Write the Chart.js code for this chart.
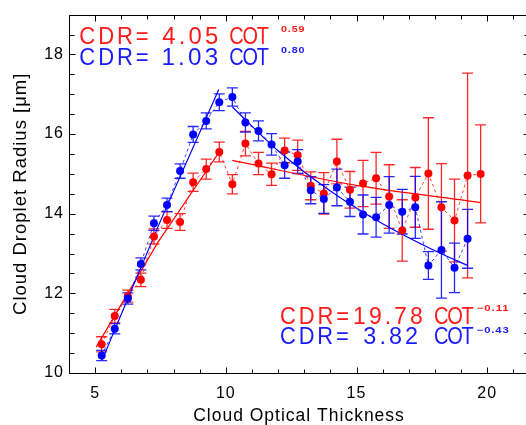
<!DOCTYPE html>
<html><head><meta charset="utf-8">
<script src="https://cdn.jsdelivr.net/npm/chart.js@4.4.1/dist/chart.umd.min.js"></script>
<style>
html,body{margin:0;padding:0;background:#fff;overflow:hidden;}
#wrap{width:526px;height:425px;overflow:hidden;position:relative;}
canvas{display:block;}
</style></head><body>
<div id="wrap"><canvas id="c" width="540" height="425"></canvas></div>
<script>
// ---- data ----
const redCOT  = [5.25,5.75,6.25,6.75,7.25,7.75,8.25,8.75,9.25,9.75,10.25,10.75,11.25,11.75,12.25,12.75,13.25,13.75,14.25,14.75,15.25,15.75,16.25,16.75,17.25,17.75,18.25,18.75,19.25,19.75];
const redCDR  = [10.72,11.43,11.93,12.34,13.43,13.84,13.79,14.79,15.12,15.55,14.74,15.76,15.26,14.99,15.59,15.47,14.70,14.51,15.31,14.60,14.76,14.89,14.43,13.58,14.41,15.01,14.16,13.83,14.96,15.00];
const redErr  = [0.19,0.17,0.15,0.17,0.19,0.21,0.21,0.23,0.25,0.25,0.24,0.31,0.28,0.28,0.31,0.38,0.35,0.52,0.56,0.46,0.58,0.65,0.80,0.77,0.75,1.40,1.10,1.04,2.57,1.23];
const blueCOT = [5.25,5.75,6.25,6.75,7.25,7.75,8.25,8.75,9.25,9.75,10.25,10.75,11.25,11.75,12.25,12.75,13.25,13.75,14.25,14.75,15.25,15.75,16.25,16.75,17.25,17.75,18.25,18.75,19.25];
const blueCDR = [10.44,11.11,11.87,12.74,13.76,14.22,15.07,15.99,16.33,16.80,16.93,16.29,16.08,15.74,15.22,15.31,14.59,14.37,14.66,14.30,13.98,13.91,14.22,14.05,14.16,12.70,13.09,12.64,13.37];
const blueErr = [0.13,0.13,0.14,0.15,0.18,0.17,0.18,0.20,0.20,0.21,0.23,0.24,0.25,0.27,0.33,0.30,0.34,0.36,0.46,0.37,0.49,0.50,0.71,0.56,0.78,0.35,1.21,0.62,0.74];

// fitted power-law lines
const redFitLowCOT   = [5.04,7.40,9.73];
const redFitLowCDR   = [10.65,13.28,15.53];
const blueFitLowCOT  = [5.27,7.50,9.73];
const blueFitLowCDR  = [10.33,13.82,17.12];
const redFitHighCOT  = [10.25,15.00,19.75];
const redFitHighCDR  = [15.34,14.71,14.28];
const blueFitHighCOT = [10.25,12.00,14.00,16.00,18.00,19.25];
const blueFitHighCDR = [16.68,15.58,14.57,13.75,13.07,12.70];

// axis ticks
const xTicks = [5,10,15,20];
const yTicks = [10,12,14,16,18];

// equation labels
const eqTexts = [
  {color:'#ff1a1a', parts:['CDR=','4.05','COT'], exp:'0.59'},
  {color:'#1a1aff', parts:['CDR=','1.03','COT'], exp:'0.80'},
  {color:'#ff1a1a', parts:['CDR=','19.78','COT'], exp:'\u22120.11'},
  {color:'#1a1aff', parts:['CDR=','3.82','COT'], exp:'\u22120.43'}
];

const FONT = '"Liberation Sans", Arial, Helvetica, sans-serif';
const pts = (xs, ys) => xs.map((x,i)=>({x:x, y:ys[i]}));

const errorBars = {
  id:'errorBars',
  beforeDatasetsDraw(chart){
    const ctx = chart.ctx, xs = chart.scales.x, ys = chart.scales.y, a = chart.chartArea;
    ctx.save();
    ctx.beginPath(); ctx.rect(a.left, a.top, a.right-a.left, a.bottom-a.top); ctx.clip();
    const series = [
      {x:redCOT, y:redCDR, e:redErr, c:'rgba(255,0,0,0.85)'},
      {x:blueCOT, y:blueCDR, e:blueErr, c:'rgba(0,0,255,0.85)'}
    ];
    ctx.lineWidth = 1.3;
    series.forEach(s=>{
      ctx.strokeStyle = s.c;
      s.x.forEach((xv,i)=>{
        const px = xs.getPixelForValue(xv);
        const top = ys.getPixelForValue(s.y[i]+s.e[i]);
        const bot = ys.getPixelForValue(s.y[i]-s.e[i]);
        ctx.beginPath();
        ctx.moveTo(px, top); ctx.lineTo(px, bot);
        ctx.moveTo(px-5.5, top); ctx.lineTo(px+5.5, top);
        ctx.moveTo(px-5.5, bot); ctx.lineTo(px+5.5, bot);
        ctx.stroke();
      });
    });
    ctx.restore();
  }
};

// draw a text token so its ink spans [x0,x1] on the given baseline with given cap height
function fitText(ctx, txt, x0, x1, base, capH, spacing){
  ctx.letterSpacing = spacing + 'px';
  const m = ctx.measureText(txt);
  const w = m.actualBoundingBoxLeft + m.actualBoundingBoxRight - spacing;
  const hm = ctx.measureText('0');
  const sy = capH / hm.actualBoundingBoxAscent;
  ctx.save();
  ctx.translate(x0, base);
  ctx.scale((x1-x0)/w, sy);
  ctx.fillText(txt, m.actualBoundingBoxLeft, 0);
  ctx.restore();
}

const frameTicks = {
  id:'frameTicks',
  beforeDraw(chart){ chart.ctx.letterSpacing = '1px'; },
  afterDraw(chart){
    const ctx = chart.ctx, xs = chart.scales.x, ys = chart.scales.y, a = chart.chartArea;
    ctx.save();
    ctx.strokeStyle = '#000'; ctx.lineWidth = 1;
    const L = Math.round(a.left)+0.5, R = Math.round(a.right)+0.5, T = Math.round(a.top)+0.5, B = Math.round(a.bottom)+0.5;
    ctx.beginPath(); ctx.rect(L, T, R-L, B-T); ctx.stroke();
    ctx.beginPath();
    for (let v = Math.ceil(xs.min); v <= xs.max; v++) {
      const len = xTicks.includes(v) ? 6 : 4;
      const p = Math.round(xs.getPixelForValue(v))+0.5;
      ctx.moveTo(p, B); ctx.lineTo(p, B-len);
      ctx.moveTo(p, T); ctx.lineTo(p, T+len);
    }
    for (let v = ys.min; v <= ys.max+1e-9; v += 0.5) {
      const len = yTicks.includes(v) ? 6 : 5;
      const p = Math.round(ys.getPixelForValue(v))+0.5;
      ctx.moveTo(L, p); ctx.lineTo(L+len, p);
      ctx.moveTo(R, p); ctx.lineTo(R-len, p);
    }
    ctx.stroke();

    // equation labels: [left,right] ink extents of each token
    const lay = [
      {xs:[[79.3,145.7],[162.3,214.3],[229.3,270.5]], base:44.3, ex:[281,304], eb:32.3},
      {xs:[[79.3,145.7],[162.7,214.3],[229.3,270.5]], base:65,   ex:[281,304], eb:53.3},
      {xs:[[280,346],[354.3,419],[434,475.5]],        base:323.7, ex:[476.7,508.3], eb:310.9},
      {xs:[[280,345.7],[363.3,414.3],[434,475.5]],    base:344,   ex:[476.7,508.3], eb:332.7}
    ];
    const spacing = [2.5, 2.5, -1.2];
    ctx.textBaseline = 'alphabetic'; ctx.textAlign = 'left';
    eqTexts.forEach((t,k)=>{
      const l = lay[k];
      ctx.fillStyle = t.color;
      ctx.font = '19px ' + FONT;
      t.parts.forEach((p,i)=>fitText(ctx, p, l.xs[i][0], l.xs[i][1], l.base, 16.8, spacing[i]));
      ctx.font = 'bold 10px ' + FONT;
      fitText(ctx, t.exp, l.ex[0], l.ex[1], l.eb, 7.2, 0.8);
    });
    ctx.restore();
  }
};

new Chart(document.getElementById('c'), {
  type:'scatter',
  data:{ datasets:[
    {label:'blue', data:pts(blueCOT, blueCDR), showLine:true, borderColor:'rgba(0,0,255,0.75)', borderWidth:1, borderDash:[3,3],
     pointRadius:4, pointBackgroundColor:'#0000ff', pointBorderWidth:0, pointHoverRadius:4},
    {label:'red', data:pts(redCOT, redCDR), showLine:true, borderColor:'rgba(255,0,0,0.75)', borderWidth:1, borderDash:[3,3],
     pointRadius:4, pointBackgroundColor:'#ff0000', pointBorderWidth:0, pointHoverRadius:4},
    {label:'blueFitLow', data:pts(blueFitLowCOT, blueFitLowCDR), showLine:true, borderColor:'#0000ff', borderWidth:1.2, pointRadius:0},
    {label:'redFitLow', data:pts(redFitLowCOT, redFitLowCDR), showLine:true, borderColor:'#ff0000', borderWidth:1.2, pointRadius:0},
    {label:'blueFitHigh', data:pts(blueFitHighCOT, blueFitHighCDR), showLine:true, borderColor:'#0000ff', borderWidth:1.2, pointRadius:0, tension:0.3},
    {label:'redFitHigh', data:pts(redFitHighCOT, redFitHighCDR), showLine:true, borderColor:'#ff0000', borderWidth:1.2, pointRadius:0, tension:0.3}
  ]},
  options:{
    responsive:false, animation:false, devicePixelRatio:1,
    layout:{padding:{left:0, right:11, top:14, bottom:0}},
    plugins:{legend:{display:false}, tooltip:{enabled:false}},
    scales:{
      x:{type:'linear', min:4, max:21.6,
        afterBuildTicks:s=>{ s.ticks = xTicks.map(v=>({value:v})); },
        afterFit:s=>{ s.height = 52; },
        ticks:{font:{family:FONT, size:16}, color:'#000', padding:11, autoSkip:false, maxRotation:0},
        grid:{display:false, drawTicks:false}, border:{display:false},
        title:{display:true, text:'Cloud Optical Thickness', color:'#000', font:{family:FONT, size:17.5, lineHeight:1}, padding:{top:0,bottom:0}}
      },
      y:{type:'linear', min:10, max:19,
        afterBuildTicks:s=>{ s.ticks = yTicks.map(v=>({value:v})); },
        afterFit:s=>{ s.width = 69; },
        ticks:{font:{family:FONT, size:16}, color:'#000', padding:5, autoSkip:false},
        grid:{display:false, drawTicks:false}, border:{display:false},
        title:{display:true, text:'Cloud Droplet Radius [\u03bcm]', color:'#000', font:{family:FONT, size:18.5, lineHeight:1}, padding:{top:12,bottom:0}}
      }
    }
  },
  plugins:[errorBars, frameTicks]
});
</script>
</body></html>
